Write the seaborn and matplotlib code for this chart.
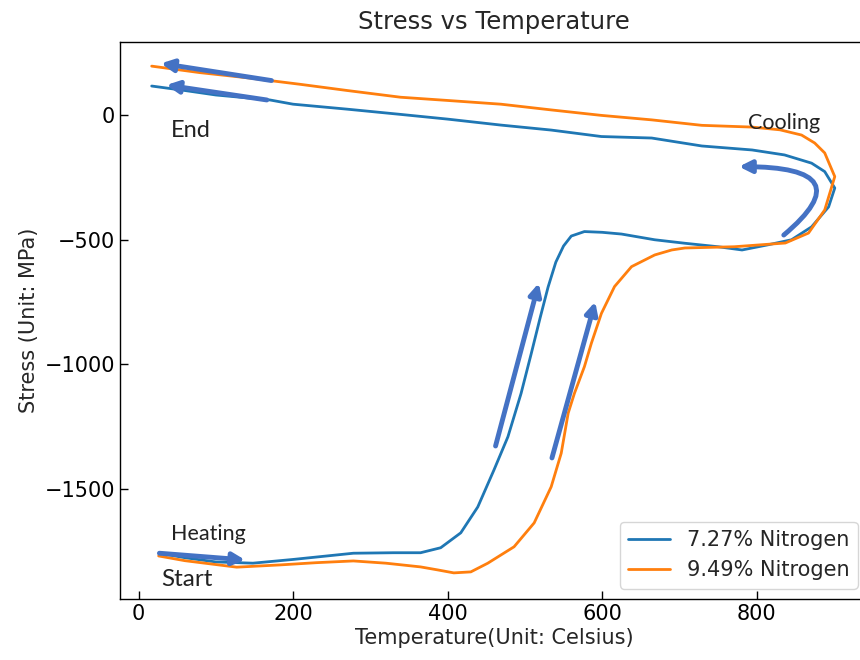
import numpy as np
import pandas as pd
import matplotlib
matplotlib.use("Agg")
import matplotlib.pyplot as plt
import seaborn as sns

# ---- data ----
series_names = ["7.27% Nitrogen", "9.49% Nitrogen"]

blue_heat_T = [27, 60, 100, 148, 200, 278, 330, 365, 391, 417, 439, 460, 478, 495, 508,
               520, 530, 540, 550, 560, 577, 600, 625, 668, 707, 750, 781, 815, 845, 871, 893, 901]
blue_heat_S = [-1760, -1778, -1795, -1800, -1785, -1760, -1758, -1758, -1738, -1678, -1574,
               -1425, -1292, -1118, -960, -810, -690, -590, -525, -485, -467, -470, -477, -500,
               -514, -528, -541, -520, -500, -448, -368, -292]
blue_cool_T = [888, 871, 836, 794, 729, 664, 599, 534, 469, 400, 339, 270, 200, 170, 100, 60, 17]
blue_cool_S = [-226, -192, -159, -139, -123, -91, -85, -59, -39, -15, 4, 25, 45, 62, 82, 100, 118]

orange_heat_T = [26, 60, 127, 183, 230, 278, 320, 365, 387, 408, 430, 452, 486, 512, 534, 547,
                 556, 564, 577, 586, 599, 616, 638, 668, 690, 707, 771, 837, 867, 888, 901]
orange_heat_S = [-1771, -1790, -1816, -1807, -1798, -1791, -1800, -1815, -1827, -1839, -1835,
                 -1800, -1734, -1638, -1493, -1358, -1197, -1118, -1010, -916, -796, -688,
                 -608, -561, -541, -533, -528, -513, -473, -380, -246]
orange_cool_T = [888, 875, 858, 830, 794, 729, 664, 599, 534, 469, 400, 339, 270, 209, 144, 79, 17]
orange_cool_S = [-151, -111, -79, -58, -47, -40, -18, 0, 22, 45, 60, 73, 100, 125, 150, 172, 198]

x_ticks = [0, 200, 400, 600, 800]
y_ticks = [0, -500, -1000, -1500]

# ---- build long table ----
frames = []
for name, T, S in [(series_names[0], blue_heat_T + blue_cool_T, blue_heat_S + blue_cool_S),
                   (series_names[1], orange_heat_T + orange_cool_T, orange_heat_S + orange_cool_S)]:
    frames.append(pd.DataFrame({"Temperature": T, "Stress": S, "series": name,
                                "order": np.arange(len(T))}))
df = pd.concat(frames, ignore_index=True)

sns.set_style("ticks")
plt.rcParams["font.family"] = ["DejaVu Sans"]
plt.rcParams["font.size"] = 15
plt.rcParams["axes.edgecolor"] = "black"

fig = plt.figure(figsize=(8.6, 6.6), dpi=100)
ax = fig.add_axes([120 / 860, 61 / 660, 748 / 860, 557 / 660])

sns.lineplot(data=df, x="Temperature", y="Stress", hue="series", sort=False,
             estimator=None, palette=["#1f77b4", "#ff7f0e"], linewidth=2, ax=ax)

ax.set_xlim(-24, 944)
ax.set_ylim(-1944, 295)
ax.set_xticks(x_ticks)
ax.set_yticks(y_ticks)
ax.tick_params(direction="in", length=6, width=1, labelsize=15, colors="black")
for sp in ax.spines.values():
    sp.set_visible(True)
    sp.set_linewidth(1)
ax.set_title("Stress vs Temperature", fontsize=17.5, pad=9)
ax.set_xlabel("Temperature(Unit: Celsius)", fontsize=15, labelpad=3)
ax.set_ylabel("Stress (Unit: MPa)", fontsize=15)

leg = ax.legend(loc="lower right", fontsize=15, title=None)

# ---- annotation arrows and labels ----
arrow_c = "#4472C4"
ap = dict(arrowstyle="-|>", color=arrow_c, lw=3.5, mutation_scale=18, shrinkA=0, shrinkB=0)
ax.annotate("", xy=(29, 209), xytext=(172, 140), arrowprops=ap)
ax.annotate("", xy=(36, 122), xytext=(166, 62), arrowprops=ap)
ax.annotate("", xy=(138, -1787), xytext=(27, -1760), arrowprops=ap)
ax.annotate("", xy=(518, -674), xytext=(462, -1329), arrowprops=ap)
ax.annotate("", xy=(591, -749), xytext=(535, -1377), arrowprops=ap)
ap2 = dict(ap, connectionstyle="angle3,angleA=40,angleB=0")
ax.annotate("", xy=(777, -206), xytext=(835, -481), arrowprops=ap2)

tf = ["Lato", "DejaVu Sans"]
ax.text(68, -59, "End", fontsize=17, family=tf, ha="center", va="center", color="#222222")
ax.text(62, -1867, "Start", fontsize=17.5, family=tf, ha="center", va="center", color="#222222")
ax.text(90, -1683, "Heating", fontsize=15.5, family=tf, ha="center", va="center", color="#222222")
ax.text(836, -29, "Cooling", fontsize=15.5, family=tf, ha="center", va="center", color="#222222")

fig.savefig("out.png", dpi=100)
